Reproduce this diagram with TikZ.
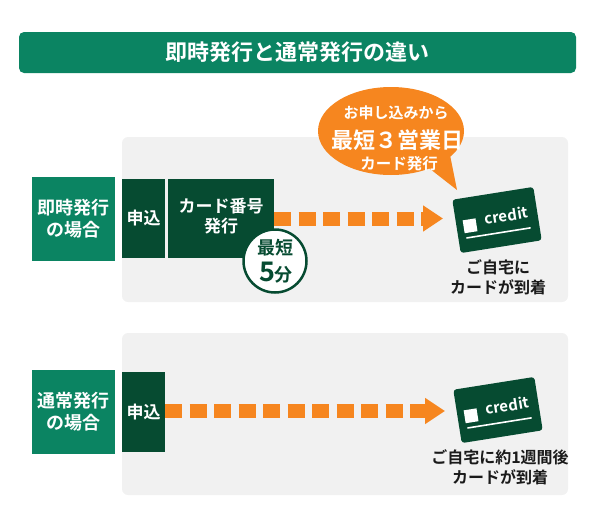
\documentclass[tikz,border=0pt]{standalone}
\usepackage{fontspec}
\setmainfont{Noto Sans CJK JP}[BoldFont={* Bold}]
\usetikzlibrary{shapes.geometric,arrows.meta}
\definecolor{teal1}{HTML}{0B8462}
\definecolor{dg}{HTML}{064B31}
\definecolor{or1}{HTML}{F6861F}
\definecolor{pg}{HTML}{F1F1F1}
\definecolor{tx}{HTML}{1A1A1A}
\tikzset{
  labelbox/.style={fill=teal1, text=white, inner sep=0pt, align=center, minimum width=83pt, minimum height=84pt, font=\bfseries\fontsize{18}{22}\selectfont},
  darkbox/.style={fill=dg, text=white, inner sep=0pt, align=center, font=\bfseries\fontsize{17}{20}\selectfont},
  panel/.style={fill=pg, rounded corners=6pt},
  dasharrow/.style={draw=or1, line width=14pt, dash pattern=on 17pt off 7.5pt, -{Triangle[length=20pt,width=25pt]}},
  creditcard/.style={fill=dg, rounded corners=3pt, minimum width=82pt, minimum height=54pt, rotate=9, inner sep=0pt},
  credittext/.style={text=white, font=\bfseries\fontsize{15}{17}\selectfont, transform shape, inner sep=0pt},
  cardtext/.style={text=tx, align=center, font=\bfseries\fontsize{16}{20}\selectfont, inner sep=0pt},
  bubbletext/.style={text=white, inner sep=0pt}
}
\begin{document}
\begin{tikzpicture}[x=1pt,y=-1pt]
\useasboundingbox (0,0) rectangle (600,525);
% title
\node[fill=teal1, rounded corners=5pt, minimum width=557pt, minimum height=41pt, text=white, font=\bfseries\fontsize{22}{26}\selectfont, inner sep=0pt] (title) at (297.5,52.5) {即時発行と通常発行の違い};
% panels
\fill[panel] (122,137) rectangle (568,302);
\fill[panel] (122,333) rectangle (568,495);
% speech bubble
\node[ellipse, fill=or1, minimum width=146pt, minimum height=88pt, inner sep=0pt] (bubble) at (391,131) {};
\fill[or1] (425,165) -- (457,190) -- (449,150) -- cycle;
\node[bubbletext, font=\bfseries\fontsize{15}{17}\selectfont] (b1) at (396,113) {お申し込みから};
\node[bubbletext, font=\bfseries\fontsize{22}{26}\selectfont] (b2) at (397,140) {最短３営業日};
\node[bubbletext, font=\bfseries\fontsize{15.5}{18}\selectfont] (b3) at (399,164) {カード発行};
% top row
\node[labelbox] (lab1) at (73.5,219) {即時発行\\の場合};
\node[darkbox, minimum width=43pt, minimum height=79pt] (moushi1) at (143.5,218.5) {申込};
\node[darkbox, minimum width=106pt, minimum height=79pt, text depth=6pt] (kaban) at (221,218.5) {カード番号\\発行};
\coordinate (tip1) at (443,218.5);
\draw[dasharrow] (kaban.east) -- (tip1);
\node[circle, draw=dg, line width=2.5pt, fill=white, minimum size=63pt, inner sep=0pt] (circ) at (275,261) {};
\node[text=dg, font=\bfseries\fontsize{18}{20}\selectfont, inner sep=0pt] (c1) at (275,248) {最短};
\node[text=dg, font=\bfseries\fontsize{18}{20}\selectfont, inner sep=0pt] (c2) at (276,273) {{\fontsize{27}{28}\selectfont 5}分};
\node[creditcard] (card1) at (497,220) {};
\begin{scope}[shift={(card1.center)}, rotate=9]
  \fill[white] (-34,-5) rectangle (-21,8);
  \node[credittext] (cr1) at (10,-3) {credit};
  \draw[white, line width=1.6pt] (-33,13) -- (32,13);
\end{scope}
\node[cardtext] (t1) at (498,277) {ご自宅に\\カードが到着};
% bottom row
\node[labelbox] (lab2) at (73.5,412) {通常発行\\の場合};
\node[darkbox, minimum width=43pt, minimum height=80pt] (moushi2) at (143.5,412) {申込};
\coordinate (tip2) at (445,411);
\draw[dasharrow] (moushi2.east |- tip2) -- (tip2);
\node[creditcard] (card2) at (498,410) {};
\begin{scope}[shift={(card2.center)}, rotate=9]
  \fill[white] (-34,-5) rectangle (-21,8);
  \node[credittext] (cr2) at (10,-3) {credit};
  \draw[white, line width=1.6pt] (-33,13) -- (32,13);
\end{scope}
\node[cardtext] (t2) at (500,467) {ご自宅に約1週間後\\カードが到着};
\end{tikzpicture}
\end{document}
